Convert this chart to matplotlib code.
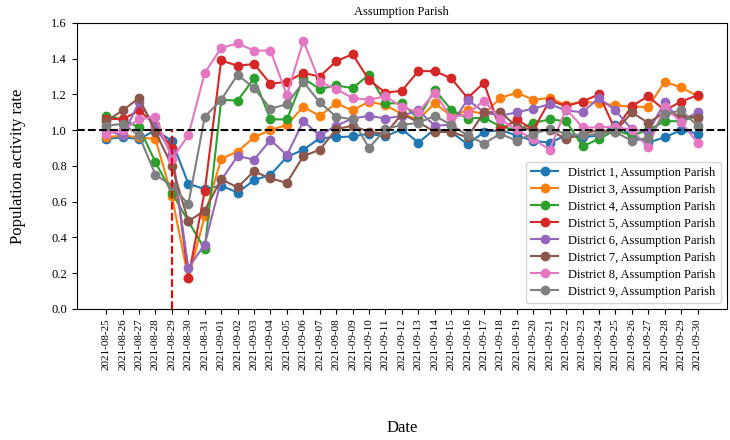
import matplotlib
matplotlib.use("Agg")
from matplotlib import pyplot as plt
import pandas as pd

plt.rcParams['font.family'] = ['Liberation Serif', 'DejaVu Serif']

dates = pd.date_range("2021-08-25", "2021-09-30").strftime("%Y-%m-%d").tolist()

d1 = [0.95, 0.96, 0.95, 1.00, 0.94, 0.70, 0.67, 0.69, 0.65, 0.72, 0.75, 0.85, 0.89,
      0.955, 0.96, 0.965, 0.98, 0.965, 1.005, 0.93, 1.005, 0.99, 0.92, 0.99,
      1.00, 0.97, 0.94, 0.93, 0.97, 0.96, 0.97, 1.03, 0.97, 0.93, 0.96, 1.00, 0.98]
d3 = [0.96, 0.97, 0.96, 0.95, 0.63, 0.17, 0.52, 0.84, 0.88, 0.96, 1.00, 1.03, 1.13,
      1.08, 1.15, 1.11, 1.16, 1.14, 1.09, 1.06, 1.15, 1.08, 1.11, 1.09,
      1.18, 1.21, 1.17, 1.18, 1.14, 1.16, 1.15, 1.14, 1.13, 1.13, 1.27, 1.24, 1.19]
d4 = [1.08, 1.06, 1.015, 0.82, 0.65, 0.49, 0.335, 1.17, 1.165, 1.29, 1.06, 1.06, 1.29,
      1.23, 1.25, 1.235, 1.31, 1.15, 1.15, 1.065, 1.225, 1.115, 1.065, 1.07,
      1.02, 1.00, 1.04, 1.06, 1.05, 0.91, 0.95, 1.00, 0.97, 1.00, 1.05, 1.05, 1.08]
d5 = [1.065, 1.06, 1.11, 1.03, 0.90, 0.175, 0.66, 1.39, 1.36, 1.37, 1.26, 1.27, 1.32,
      1.30, 1.385, 1.425, 1.28, 1.21, 1.22, 1.33, 1.33, 1.29, 1.18, 1.265,
      1.00, 1.06, 1.00, 1.165, 1.135, 1.16, 1.20, 1.00, 1.135, 1.19, 1.11, 1.16, 1.195]
d6 = [1.00, 0.97, 1.155, 1.02, 0.87, 0.23, 0.36, 0.72, 0.855, 0.835, 0.945, 0.86, 1.05,
      0.97, 1.025, 1.065, 1.08, 1.065, 1.08, 1.11, 1.025, 1.03, 1.17, 1.10,
      1.08, 1.10, 1.12, 1.145, 1.11, 1.10, 1.18, 1.11, 1.005, 0.99, 1.155, 1.05, 1.10]
d7 = [1.05, 1.11, 1.18, 0.99, 0.80, 0.49, 0.55, 0.725, 0.68, 0.77, 0.73, 0.705, 0.855,
      0.89, 1.005, 1.025, 0.99, 0.98, 1.09, 1.045, 0.99, 0.99, 0.96, 1.10,
      1.10, 1.02, 1.00, 1.00, 0.95, 0.98, 1.00, 0.99, 1.10, 1.04, 1.10, 1.08, 1.07]
d8 = [0.98, 1.00, 1.06, 1.075, 0.84, 0.97, 1.32, 1.46, 1.485, 1.445, 1.445, 1.195, 1.50,
      1.27, 1.23, 1.18, 1.17, 1.19, 1.13, 1.10, 1.21, 1.07, 1.09, 1.165,
      1.06, 1.00, 0.95, 0.89, 1.12, 1.015, 1.015, 1.02, 1.00, 0.905, 1.13, 1.045, 0.93]
d9 = [1.025, 1.035, 0.97, 0.75, 0.69, 0.585, 1.075, 1.17, 1.31, 1.235, 1.12, 1.145, 1.27,
      1.155, 1.075, 1.06, 0.90, 1.005, 1.03, 1.04, 1.08, 1.03, 0.97, 0.925,
      0.98, 0.94, 0.98, 1.005, 0.98, 0.97, 0.98, 0.99, 0.94, 0.955, 1.09, 1.11, 1.025]

series = [d1, d3, d4, d5, d6, d7, d8, d9]
labels = ["District 1, Assumption Parish", "District 3, Assumption Parish",
          "District 4, Assumption Parish", "District 5, Assumption Parish",
          "District 6, Assumption Parish", "District 7, Assumption Parish",
          "District 8, Assumption Parish", "District 9, Assumption Parish"]

fig = plt.figure(figsize=(7.3, 4.4), dpi=100)
ax = fig.add_axes([0.105, 0.298, 0.891, 0.65])

x = range(len(dates))
for vals, lab in zip(series, labels):
    ax.plot(x, vals, marker='o', markersize=6, linewidth=1.5, label=lab)

ax.axhline(1.0, color='black', linestyle='--', linewidth=1.5)
ax.vlines(dates.index("2021-08-29"), 0, 1.0, colors='red', linestyles='--', linewidth=1.5)

ax.set_ylim(0, 1.6)
ax.set_yticks([0.0, 0.2, 0.4, 0.6, 0.8, 1.0, 1.2, 1.4, 1.6])
ax.set_yticklabels([f"{v:.1f}" for v in ax.get_yticks()], fontsize=9)
ax.set_xticks(list(x))
ax.set_xticklabels(dates, rotation=90, fontsize=8)

ax.set_title("Assumption Parish", fontsize=9)
ax.set_ylabel("Population activity rate", fontsize=12, labelpad=18)
ax.set_xlabel("Date", fontsize=12, labelpad=36)

ax.legend(loc='lower right', fontsize=9, handlelength=2.2, labelspacing=0.4)

plt.savefig("out.png", dpi=100)
